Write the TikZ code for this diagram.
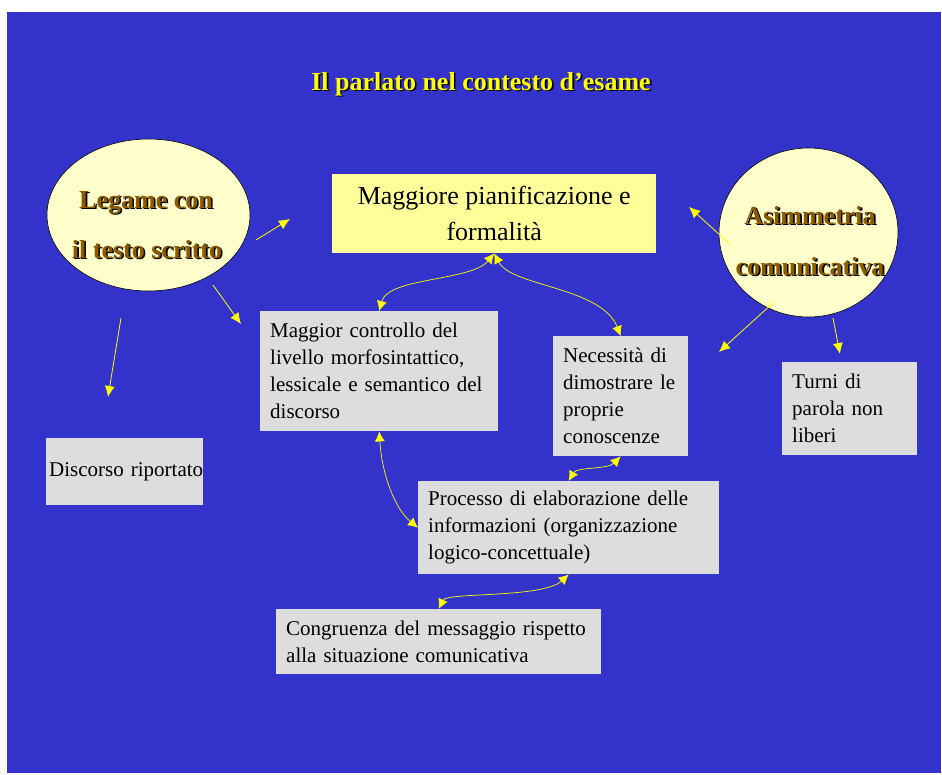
\documentclass[tikz,border=0pt]{standalone}
\usepackage{fontspec}
\setmainfont{Liberation Serif}
\usetikzlibrary{arrows.meta,shapes.geometric,calc}
\definecolor{bgblue}{HTML}{3333CC}
\definecolor{yboxfill}{HTML}{FFFF99}
\definecolor{gboxfill}{HTML}{DDDDDD}
\definecolor{ellfill}{HTML}{FFFFCC}
\definecolor{brn}{HTML}{8C5A00}
\definecolor{arrcol}{HTML}{FFFF00}
\newcommand{\shtxt}[2]{\makebox[0pt][l]{\hspace{1.6pt}\raisebox{-1.6pt}{\textcolor{#1}{#2}}}#2}
\tikzset{
  bubble/.style={ellipse, draw=black, line width=0.6pt, fill=ellfill, inner sep=0pt},
  eltext/.style={anchor=base, inner sep=0pt, text=brn, font=\fontsize{26}{30}\selectfont\bfseries},
  gbox/.style={fill=gboxfill, anchor=north west, align=left, inner xsep=10pt, inner ysep=0pt,
               font=\fontsize{21}{27}\selectfont},
  conn/.style={draw=arrcol, line width=0.8pt, -{Latex[length=11pt,width=10pt]}},
  dconn/.style={draw=arrcol, line width=0.7pt, {Latex[length=10pt,width=10pt]}-{Latex[length=10pt,width=10pt]}}
}
\begin{document}
\begin{tikzpicture}[x=1pt,y=-1pt]
\useasboundingbox (0,0) rectangle (942,774);
\fill[bgblue] (7,12) rectangle (941,773);

% title
\node[anchor=base, inner sep=0pt, text=arrcol, font=\fontsize{26}{30}\selectfont\bfseries] (title) at (481,90)
  {\shtxt{black}{Il parlato nel contesto d’esame}};

% bubbles
\node[bubble, minimum width=203pt, minimum height=152pt] (le) at (148.5,215) {};
\node[eltext] (le1) at (146,208) {\shtxt{black}{Legame con}};
\node[eltext] (le2) at (147,258) {\shtxt{black}{il testo scritto}};

\node[bubble, minimum width=179pt, minimum height=169pt] (ac) at (808.5,232.5) {};
\node[eltext] (ac1) at (810,224) {\shtxt{black}{Asimmetria}};
\node[eltext] (ac2) at (810,275) {\shtxt{black}{comunicativa}};

% yellow box
\node[fill=yboxfill, anchor=north west, align=center, inner sep=0pt, minimum width=324pt, minimum height=79pt,
      font=\fontsize{26}{36}\selectfont] (yb) at (332,174) {Maggiore pianificazione e\\formalità};

% gray boxes
\node[gbox, minimum width=238pt, minimum height=120pt, text width=218pt] (mc) at (260,311)
  {Maggior controllo del\\livello morfosintattico,\\lessicale e semantico del\\discorso};
\node[gbox, minimum width=135pt, minimum height=120pt, text width=115pt] (nd) at (553,336)
  {Necessità di\\dimostrare le\\proprie\\conoscenze};
\node[gbox, minimum width=135pt, minimum height=93pt, text width=115pt] (tu) at (782,362)
  {Turni di\\parola non\\liberi};
\node[gbox, inner xsep=3pt, minimum width=157pt, minimum height=67pt, text width=151pt] (dr) at (46,438)
  {\mbox{Discorso riportato}};
\node[gbox, minimum width=301pt, minimum height=93pt, text width=281pt] (pr) at (418,481)
  {Processo di elaborazione delle\\informazioni (organizzazione\\logico-concettuale)};
\node[gbox, minimum width=325pt, minimum height=65pt, text width=305pt] (cg) at (276,609)
  {Congruenza del messaggio rispetto\\alla situazione comunicativa};

% free-ended arrows
\coordinate (a1s) at (256,240); \coordinate (a1e) at (290,219);
\coordinate (a2s) at (213,285); \coordinate (a2e) at (241,324);
\coordinate (a3s) at (121,318); \coordinate (a3e) at (108,397);
\coordinate (a4s) at (731,245); \coordinate (a4e) at (689,207);
\coordinate (a5s) at (774,302); \coordinate (a5e) at (719,352);
\coordinate (a6s) at (833,318); \coordinate (a6e) at (840,354);
\draw[conn] (a1s) -- (a1e);
\draw[conn] (a2s) -- (a2e);
\draw[conn] (a3s) -- (a3e);
\draw[conn] (a4s) -- (a4e);
\draw[conn] (a5s) -- (a5e);
\draw[conn] (a6s) -- (a6e);

% curved double arrows
\draw[dconn] (yb.south) .. controls +(-23,28) and +(9,-34) .. (mc.north);
\draw[dconn] (yb.south) .. controls +(17,33) and +(-19,-49) .. (nd.north);
\draw[dconn] (mc.south) .. controls +(3,46) and +(-22,-18) .. (pr.west);
\draw[dconn] (pr.north) .. controls +(8,-14) and +(-13,13) .. (nd.south);
\draw[dconn] (cg.north) .. controls +(8,-17) and +(-26,24) .. (pr.south);
\end{tikzpicture}
\end{document}
